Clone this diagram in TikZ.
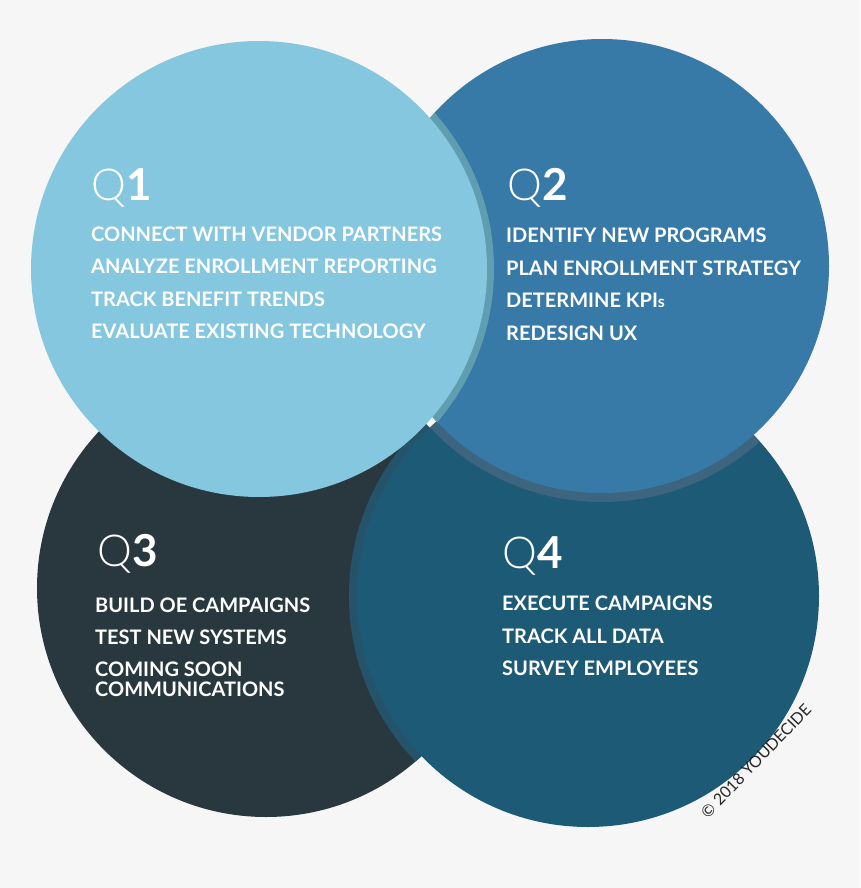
\documentclass[tikz,border=0pt]{standalone}
\usepackage{fontspec}
\setmainfont{Lato}
\newfontfamily\qlight{Lato Light}
\usetikzlibrary{positioning}
\definecolor{bg}{HTML}{F6F6F6}
\definecolor{qone}{HTML}{84C7DF}
\definecolor{qtwo}{HTML}{377AA8}
\definecolor{qthree}{HTML}{29383F}
\definecolor{qfour}{HTML}{1D5A76}
\definecolor{rimone}{HTML}{5E9EB0}
\definecolor{rimtwo}{HTML}{3E6580}
\definecolor{rimfour}{HTML}{24536A}
\tikzset{disc/.style={circle,inner sep=0pt,draw=none},qlab/.style={anchor=base west,text=white,inner sep=0pt,font=\fontsize{44}{44}\selectfont},item/.style={anchor=base west,text=white,inner sep=0pt,font=\bfseries\fontsize{20}{22}\selectfont},note/.style={text=black!85,inner sep=0pt,font=\fontsize{16}{16}\selectfont}}
\begin{document}
\begin{tikzpicture}[x=1pt,y=-1pt]
\fill[bg] (0,0) rectangle (860,888);
\coordinate (c1) at (259,269);
\coordinate (c2) at (602,266);
\coordinate (c3) at (266,588);
\coordinate (c4) at (588,596);
\node[disc,fill=qthree,minimum size=458pt] (q3) at (c3) {};
\begin{scope}\clip (c3) circle (229pt);\fill[rimfour] (c4) circle (239pt);\end{scope}
\node[disc,fill=qfour,minimum size=462pt] (q4) at (c4) {};
\begin{scope}\clip (c4) circle (231pt);\fill[rimtwo] (c2) circle (236pt);\end{scope}
\node[disc,fill=qtwo,minimum size=454pt] (q2) at (c2) {};
\begin{scope}\clip (c2) circle (227pt);\fill[rimone] (c1) circle (235pt);\end{scope}
\node[disc,fill=qone,minimum size=456pt] (q1) at (c1) {};
\node[qlab] (l1) at (91,200) {{\qlight Q}\textbf{1}};
\node[qlab] (l2) at (507,200) {{\qlight Q}\textbf{2}};
\node[qlab] (l3) at (97,566) {{\qlight Q}\textbf{3}};
\node[qlab] (l4) at (502,568) {{\qlight Q}\textbf{4}};
\foreach \t/\y [count=\i] in {CONNECT WITH VENDOR PARTNERS/241,ANALYZE ENROLLMENT REPORTING/273,TRACK BENEFIT TRENDS/306,EVALUATE EXISTING TECHNOLOGY/338}
  \node[item] (a\i) at (91,\y) {\t};
\foreach \t/\y [count=\i] in {IDENTIFY NEW PROGRAMS/242,PLAN ENROLLMENT STRATEGY/275,DETERMINE KPI{\fontsize{16}{16}\selectfont s}/307,REDESIGN UX/340}
  \node[item] (b\i) at (506,\y) {\t};
\foreach \t/\y [count=\i] in {BUILD OE CAMPAIGNS/612,TEST NEW SYSTEMS/644,COMING SOON/676,COMMUNICATIONS/696}
  \node[item] (c\i) at (95,\y) {\t};
\foreach \t/\y [count=\i] in {EXECUTE CAMPAIGNS/610,TRACK ALL DATA/643,SURVEY EMPLOYEES/675}
  \node[item] (d\i) at (502,\y) {\t};
\node[note,rotate=46] (copy) at (756,761) {© 2018 YOUDECIDE};
\end{tikzpicture}
\end{document}
